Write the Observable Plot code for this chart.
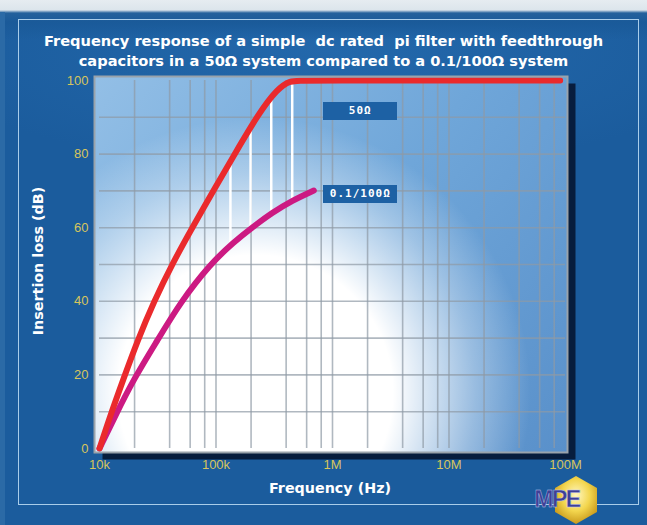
<!DOCTYPE html>
<html>
<head>
<meta charset="utf-8">
<script src="https://cdn.jsdelivr.net/npm/d3@7"></script>
<script src="https://cdn.jsdelivr.net/npm/@observablehq/plot@0.6"></script>
<style>
  html, body { margin: 0; padding: 0; background: #1b5c9d; }
  #wrap {
    position: relative; width: 647px; height: 525px; overflow: hidden;
    background:
      linear-gradient(to bottom, #e6ecf1 0px, #dce5ec 10px, #24619c 13px, #1a5a99 22px, rgba(27,92,157,0) 40px),
      radial-gradient(ellipse 420px 120px at 330px 50px, #2368ab 0%, rgba(35,104,171,0) 100%),
      #1b5c9d;
  }
  #leftstrip { position: absolute; left: 0; top: 12px; width: 5px; height: 513px; background: #2b6aa6; }
  #border {
    position: absolute; left: 18px; top: 19px; width: 621px; height: 486px;
    border: 1.5px solid #a9cdea; box-sizing: border-box;
  }
  #chart { position: absolute; left: 0; top: 0; }
  .txt { position: absolute; color: #ffffff; font-family: "DejaVu Sans", sans-serif; font-weight: bold; font-size: 14.3px; white-space: pre; }
  #title1, #title2 { left: 0; width: 647px; text-align: center; font-size: 14.6px; }
  #title1 { top: 32px; }
  #title2 { top: 52px; }
  #xlab { left: 230px; width: 200px; top: 480px; text-align: center; }
  #ylab { left: 38px; top: 261px; transform: translate(-50%, -50%) rotate(-90deg); }
  .lg {
    position: absolute; width: 74px; height: 18px; background: #1d61a4;
    color: #ffffff; font-family: "DejaVu Sans Mono", monospace; font-weight: bold;
    font-size: 11px; letter-spacing: 1px; line-height: 18px; text-align: center;
  }
  #logo { position: absolute; left: 526px; top: 470px; }
</style>
</head>
<body>
<div id="wrap">
  <div id="leftstrip"></div>
  <div id="border"></div>
  <div id="chart"></div>
  <div class="txt" id="title1"></div>
  <div class="txt" id="title2"></div>
  <div class="txt" id="xlab"></div>
  <div class="txt" id="ylab"></div>
  <div class="lg" id="lg50"></div>
  <div class="lg" id="lg01"></div>
  <svg id="logo" width="80" height="55" viewBox="0 0 80 55">
    <defs>
      <radialGradient id="hexg" cx="50%" cy="40%" r="60%">
        <stop offset="0" stop-color="#fff7c2"/>
        <stop offset="0.55" stop-color="#f3d64e"/>
        <stop offset="1" stop-color="#c99a1c"/>
      </radialGradient>
    </defs>
    <polygon points="50,6 71,18 71,42 50,54 29,42 29,18" fill="url(#hexg)"/>
    <text x="31" y="37" text-anchor="middle" font-family="Liberation Sans, Arial, sans-serif" font-weight="bold" font-size="23" letter-spacing="-1.5" fill="#3e4096" stroke="#c8c8ea" stroke-width="0.4">MPE</text>
  </svg>
</div>
<script>
// ---- text ----
const titleLines = ["Frequency response of a simple  dc rated  pi filter with feedthrough",
                    "capacitors in a 50Ω system compared to a 0.1/100Ω system"];
const xLabel = "Frequency (Hz)";
const yLabel = "Insertion loss (dB)";
const seriesNames = ["50Ω", "0.1/100Ω"];

// ---- axes ----
const freqTicks = [1e4, 1e5, 1e6, 1e7, 1e8];
const freqTickLabels = ["10k", "100k", "1M", "10M", "100M"];
const dbTicks = [0, 20, 40, 60, 80, 100];
const gridFreqs = [2e4, 4e4, 6e4, 8e4, 1e5, 2e5, 4e5, 6e5, 8e5, 1e6, 2e6, 4e6, 6e6, 8e6, 1e7, 2e7, 4e7, 6e7, 8e7];
const gridDb = [10, 20, 30, 40, 50, 60, 70, 80, 90];

// ---- series: 50 ohm system ----
const freq50 = [1e4, 1.24e4, 1.61e4, 2.12e4, 2.91e4, 4.23e4, 6.41e4, 9.52e4, 1.47e5, 2.32e5, 3.37e5, 4.36e5, 5.3e5, 9e7];
const db50   = [0,   9.0,    19.0,   29.3,   39.7,   50.3,   60.6,   70.1,   80.4,   91.0,   97.8,   100,    100,   100];

// ---- series: 0.1/100 ohm system ----
const freq01 = [1e4, 1.37e4, 1.97e4, 3.13e4, 4.96e4, 8.97e4, 1.42e5, 2.05e5, 3.04e5, 4.51e5, 6.91e5];
const db01   = [0,   9.0,    18.9,   29.3,   39.8,   50.2,   56.1,   60.1,   64.1,   67.4,   70.1];

// ---- white hatch lines between the curves ----
const hatchFreqs = [1.33e5, 1.98e5, 2.98e5, 4.51e5];
const hatchLow   = [55.0, 59.5, 63.5, 67.0];
const hatchHigh  = [77.0, 86.4, 94.6, 98.8];

document.getElementById("title1").textContent = titleLines[0];
document.getElementById("title2").textContent = titleLines[1];
document.getElementById("xlab").textContent = xLabel;
document.getElementById("ylab").textContent = yLabel;
const lg50 = document.getElementById("lg50");
const lg01 = document.getElementById("lg01");
lg50.textContent = seriesNames[0];
lg01.textContent = seriesNames[1];

const s50 = freq50.map((f, i) => ({f, db: db50[i]}));
const s01 = freq01.map((f, i) => ({f, db: db01[i]}));
const hatch = hatchFreqs.map((f, i) => ({f, lo: hatchLow[i], hi: hatchHigh[i]}));
const tickLabelOf = new Map(freqTicks.map((t, i) => [t, freqTickLabels[i]]));

const ins = {insetLeft: -5, insetRight: -2, insetTop: -4, insetBottom: -4};
const tickFont = "Liberation Sans, Arial, sans-serif";
const tickColor = "#d6c55e";

const chart = Plot.plot({
  width: 647, height: 525,
  marginLeft: 99, marginRight: 82, marginTop: 80, marginBottom: 77,
  style: {background: "transparent", overflow: "visible"},
  x: {type: "log", domain: [1e4, 1e8]},
  y: {domain: [0, 100]},
  marks: [
    Plot.frame({fill: "#061633", fillOpacity: 0.9, dx: 8, dy: 7, ...ins}),
    Plot.frame({fill: "url(#plotBg)", ...ins}),
    Plot.frame({fill: "url(#glow)", ...ins}),
    Plot.ruleY(gridDb, {stroke: "#8f9aa5", strokeOpacity: 0.7, strokeWidth: 1.6}),
    Plot.ruleX(gridFreqs, {stroke: "#8f9aa5", strokeOpacity: 0.7, strokeWidth: 1.6}),
    Plot.ruleX(hatch, {x: "f", y1: "lo", y2: "hi", stroke: "#ffffff", strokeWidth: 2.5}),
    Plot.line(s01, {x: "f", y: "db", stroke: "#cc1a82", strokeWidth: 6, curve: "basis", strokeLinecap: "round"}),
    Plot.line(s50, {x: "f", y: "db", stroke: "#ea2a2c", strokeWidth: 6, curve: "basis", strokeLinecap: "round"}),
    Plot.frame({stroke: "#9aa3ab", strokeWidth: 2, ...ins}),
    Plot.axisX(freqTicks, {tickSize: 0, tickPadding: 11, label: null, tickFormat: d => tickLabelOf.get(d),
      fill: tickColor, fontSize: 13, fontFamily: tickFont}),
    Plot.axisY(dbTicks, {tickSize: 0, tickPadding: 11, label: null,
      fill: tickColor, fontSize: 13, fontFamily: tickFont})
  ]
});

// gradients + shadow blur
const svg = d3.select(chart);
const defs = svg.insert("defs", ":first-child");
const lg = defs.append("linearGradient").attr("id", "plotBg").attr("gradientUnits", "userSpaceOnUse")
  .attr("x1", 94).attr("y1", 76).attr("x2", 567).attr("y2", 452);
lg.append("stop").attr("offset", 0).attr("stop-color", "#93bfe6");
lg.append("stop").attr("offset", 0.5).attr("stop-color", "#6fa6d9");
lg.append("stop").attr("offset", 1).attr("stop-color", "#5990ca");
const rg = defs.append("radialGradient").attr("id", "glow").attr("gradientUnits", "userSpaceOnUse")
  .attr("cx", 255).attr("cy", 392).attr("r", 275);
rg.append("stop").attr("offset", 0).attr("stop-color", "#ffffff").attr("stop-opacity", 1);
rg.append("stop").attr("offset", 0.5).attr("stop-color", "#ffffff").attr("stop-opacity", 1);
rg.append("stop").attr("offset", 0.8).attr("stop-color", "#ffffff").attr("stop-opacity", 0.35);
rg.append("stop").attr("offset", 1).attr("stop-color", "#ffffff").attr("stop-opacity", 0);
const blur = defs.append("filter").attr("id", "shadowBlur").attr("x", "-10%").attr("y", "-10%").attr("width", "120%").attr("height", "120%");
blur.append("feGaussianBlur").attr("stdDeviation", 5);
const frames = chart.querySelectorAll('g[aria-label="frame"]');
if (frames.length) frames[0].setAttribute("filter", "url(#shadowBlur)");

document.getElementById("chart").appendChild(chart);

// legend boxes placed next to the curve ends using the chart's own scales
const xs = chart.scale("x"), ys = chart.scale("y");
const boxLeft = xs.apply(freq01[freq01.length - 1]) + 10;
lg50.style.left = boxLeft + "px";
lg50.style.top = (ys.apply(91.6) - 9) + "px";
lg01.style.left = boxLeft + "px";
lg01.style.top = (ys.apply(db01[db01.length - 1]) - 5) + "px";
</script>
</body>
</html>
